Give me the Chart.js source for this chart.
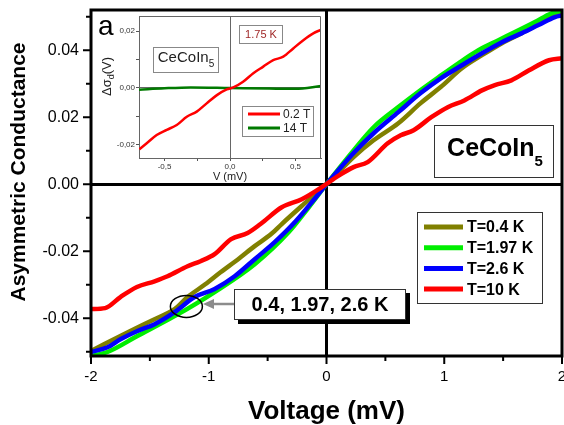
<!DOCTYPE html>
<html lang="en">
<head>
<meta charset="UTF-8">
<title>Asymmetric Conductance - CeCoIn5</title>
<script src="https://cdn.jsdelivr.net/npm/chart.js"></script>
<style>
  body { margin: 0; background: #fff; }
  #wrap { position: relative; width: 564px; height: 425px; }
  #mainChart { position: absolute; left: 0; top: 0; }
  #insetBox { position: absolute; left: 93px; top: 12px; width: 232px; height: 170px; background: #fff; }
</style>
</head>
<body>
<div id="wrap">
  <canvas id="mainChart" width="564" height="425"></canvas>
  <div id="insetBox"><canvas id="insetChart" width="232" height="170"></canvas></div>
</div>
<script>
// main panel: asymmetric conductance vs voltage (mV)
const seriesLabels = ['T=0.4 K', 'T=1.97 K', 'T=2.6 K', 'T=10 K'];

const t04V = [-2.0, -1.67, -1.46, -1.29, -1.18, -1.03, -0.90, -0.75, -0.61, -0.47, -0.38, -0.20, 0, 0.23, 0.40, 0.61, 0.80, 0.97, 1.15, 1.32, 1.49, 1.66, 1.83, 2.0];
const t04G = [-0.0498, -0.0439, -0.0403, -0.0373, -0.0337, -0.0299, -0.0263, -0.0224, -0.0185, -0.0149, -0.0119, -0.0062, 0, 0.0081, 0.0131, 0.0182, 0.0242, 0.0290, 0.0346, 0.0385, 0.0421, 0.0451, 0.0484, 0.0513];

const t197V = [-2.0, -1.86, -1.61, -1.29, -0.95, -0.61, -0.32, -0.15, 0, 0.23, 0.40, 0.61, 0.80, 0.95, 1.12, 1.29, 1.46, 1.60, 1.77, 1.91, 2.0];
const t197G = [-0.0513, -0.0501, -0.0454, -0.0394, -0.0322, -0.0239, -0.0143, -0.0069, 0, 0.0101, 0.0170, 0.0230, 0.0281, 0.0319, 0.0361, 0.0400, 0.0430, 0.0454, 0.0484, 0.0510, 0.0519];

const t26V = [-2.0, -1.86, -1.75, -1.61, -1.46, -1.29, -1.12, -0.95, -0.78, -0.61, -0.44, -0.26, -0.09, 0, 0.23, 0.40, 0.61, 0.80, 0.97, 1.15, 1.32, 1.49, 1.66, 1.80, 1.94, 2.0];
const t26G = [-0.0501, -0.0487, -0.0463, -0.0439, -0.0418, -0.0382, -0.0337, -0.0313, -0.0275, -0.0224, -0.0173, -0.0110, -0.0039, 0, 0.0093, 0.0152, 0.0215, 0.0272, 0.0316, 0.0355, 0.0391, 0.0424, 0.0451, 0.0475, 0.0499, 0.0504];

const t10V = [-2.0, -1.88, -1.75, -1.61, -1.46, -1.35, -1.18, -1.07, -0.95, -0.81, -0.67, -0.56, -0.38, -0.21, -0.04, 0.10, 0.23, 0.35, 0.52, 0.63, 0.74, 0.89, 1.03, 1.17, 1.32, 1.43, 1.57, 1.72, 1.89, 2.0];
const t10G = [-0.0373, -0.0370, -0.0337, -0.0307, -0.0290, -0.0275, -0.0245, -0.0230, -0.0209, -0.0164, -0.0146, -0.0119, -0.0069, -0.0045, -0.0009, 0.0025, 0.0051, 0.0066, 0.0122, 0.0146, 0.0161, 0.0200, 0.0230, 0.0250, 0.0280, 0.0296, 0.0310, 0.0340, 0.0370, 0.0376];

// inset: delta sigma_d at 1.75 K
const insetLabels = ['0.2 T', '14 T'];
const in02V = [-0.692, -0.636, -0.56, -0.483, -0.407, -0.33, -0.254, -0.178, -0.10, -0.025, 0.025, 0.10, 0.178, 0.254, 0.33, 0.407, 0.483, 0.56, 0.636, 0.692];
const in02G = [-0.0215, -0.0194, -0.0165, -0.0147, -0.0130, -0.0101, -0.0083, -0.0054, -0.0025, -0.0005, 0.0002, 0.0022, 0.0052, 0.0075, 0.0098, 0.0110, 0.0139, 0.0168, 0.0192, 0.0204];
const in14V = [-0.695, -0.5, -0.3, 0, 0.3, 0.5, 0.695];
const in14G = [-0.0006, -0.0001, 0.0002, 0, -0.0002, -0.0003, 0.0007];

const FONT = 'Arial, "Liberation Sans", sans-serif';
const pts = (xs, ys) => xs.map((x, i) => ({ x: x, y: ys[i] }));
const isZero = v => Math.abs(v) < 1e-9;
const near = (v, step) => Math.abs(v / step - Math.round(v / step)) < 1e-6;
const zeroGrid = col => c => (c.tick && isZero(c.tick.value)) ? col : 'rgba(0,0,0,0)';
// tick positions every `step` between lo and hi (axis marks only)
const tickRange = (lo, hi, step) => {
    const out = [];
    for (let k = Math.round(lo / step); k <= Math.round(hi / step); k++) out.push({ value: k * step });
    return out;
};

// text with a lowered (subscript) part; parts = [[text, font, dy], ...]
function richText(ctx, parts, cx, y) {
    let w = 0;
    parts.forEach(p => { ctx.font = p[1]; w += ctx.measureText(p[0]).width; });
    let x = cx - w / 2;
    ctx.textAlign = 'left';
    parts.forEach(p => {
        ctx.font = p[1];
        ctx.fillText(p[0], x, y + p[2]);
        x += ctx.measureText(p[0]).width;
    });
}

const mainDecor = {
    id: 'mainDecor',
    afterDatasetsDraw(chart) {
        const { ctx, chartArea: a, scales: { x, y } } = chart;
        ctx.save();
        ctx.strokeStyle = '#000';
        ctx.lineWidth = 2;
        ctx.beginPath();
        x.ticks.forEach(t => {
            const px = x.getPixelForValue(t.value);
            ctx.moveTo(px, a.bottom);
            ctx.lineTo(px, a.bottom + (near(t.value, 1) ? 8 : 5));
        });
        y.ticks.forEach(t => {
            const py = y.getPixelForValue(t.value);
            ctx.moveTo(a.left, py);
            ctx.lineTo(a.left - (near(t.value, 0.02) ? 8 : 5), py);
        });
        ctx.stroke();

        ctx.lineWidth = 3;
        ctx.strokeRect(a.left, a.top, a.right - a.left, a.bottom - a.top);

        // y title
        ctx.fillStyle = '#000';
        ctx.save();
        ctx.translate(25, 172);
        ctx.rotate(-Math.PI / 2);
        ctx.font = 'bold 21px ' + FONT;
        ctx.textAlign = 'center';
        ctx.textBaseline = 'alphabetic';
        ctx.fillText('Asymmetric Conductance', 0, 0);
        ctx.restore();

        // CeCoIn5 label box
        ctx.lineWidth = 1;
        ctx.strokeStyle = '#333';
        ctx.strokeRect(434.5, 125.5, 119, 52);
        ctx.textBaseline = 'alphabetic';
        richText(ctx, [['CeCoIn', 'bold 25px ' + FONT, 0], ['5', 'bold 15px ' + FONT, 10]], 495, 156);

        // legend
        ctx.strokeStyle = '#333';
        ctx.strokeRect(417.5, 212.5, 125, 91);
        chart.data.datasets.forEach((ds, i) => {
            const ry = 227 + i * 20.7;
            ctx.strokeStyle = ds.borderColor;
            ctx.lineWidth = 5;
            ctx.beginPath();
            ctx.moveTo(424, ry);
            ctx.lineTo(463, ry);
            ctx.stroke();
            ctx.fillStyle = '#000';
            ctx.font = 'bold 16px ' + FONT;
            ctx.textAlign = 'left';
            ctx.textBaseline = 'middle';
            ctx.fillText(ds.label, 467, ry + 1);
        });

        // annotation: ellipse around the low-T curves, arrow and label
        const ex = x.getPixelForValue(-1.19), ey = y.getPixelForValue(-0.0365);
        ctx.strokeStyle = '#000';
        ctx.lineWidth = 1.5;
        ctx.beginPath();
        ctx.ellipse(ex, ey, 16, 11, 0, 0, Math.PI * 2);
        ctx.stroke();

        ctx.strokeStyle = '#8c8c8c';
        ctx.fillStyle = '#8c8c8c';
        ctx.lineWidth = 2.5;
        ctx.beginPath();
        ctx.moveTo(234, 304);
        ctx.lineTo(212, 304);
        ctx.stroke();
        ctx.beginPath();
        ctx.moveTo(203, 304);
        ctx.lineTo(214, 299);
        ctx.lineTo(214, 309);
        ctx.closePath();
        ctx.fill();

        ctx.fillStyle = '#000';
        ctx.fillRect(238, 293, 172, 31);
        ctx.fillStyle = '#fff';
        ctx.fillRect(234, 289, 172, 31);
        ctx.strokeStyle = '#333';
        ctx.lineWidth = 1;
        ctx.strokeRect(234.5, 289.5, 171, 30);
        ctx.fillStyle = '#000';
        ctx.font = 'bold 20px ' + FONT;
        ctx.textAlign = 'center';
        ctx.textBaseline = 'middle';
        ctx.fillText('0.4, 1.97, 2.6 K', 320, 305.5);
        ctx.restore();
    }
};

new Chart(document.getElementById('mainChart'), {
    type: 'line',
    data: {
        datasets: [
            { label: seriesLabels[0], data: pts(t04V, t04G), borderColor: '#808000', order: 3 },
            { label: seriesLabels[1], data: pts(t197V, t197G), borderColor: '#00ee00', order: 2 },
            { label: seriesLabels[2], data: pts(t26V, t26G), borderColor: '#0000ff', order: 1 },
            { label: seriesLabels[3], data: pts(t10V, t10G), borderColor: '#ff0000', order: 0 }
        ]
    },
    options: {
        responsive: false,
        animation: false,
        layout: { padding: { top: 10, right: 2, left: 0, bottom: 0 } },
        elements: {
            point: { radius: 0 },
            line: { borderWidth: 4.5, cubicInterpolationMode: 'monotone', fill: false }
        },
        plugins: { legend: { display: false }, tooltip: { enabled: false } },
        scales: {
            x: {
                type: 'linear', min: -2, max: 2,
                afterBuildTicks: s => { s.ticks = tickRange(-2, 2, 0.5); },
                afterFit: s => { s.height = 69; s.paddingLeft = 0; s.paddingRight = 0; },
                ticks: {
                    padding: 12, color: '#000', autoSkip: false, maxRotation: 0,
                    font: { family: FONT, size: 15 },
                    callback: v => near(v, 1) ? String(Math.round(v)) : ''
                },
                grid: { drawTicks: false, lineWidth: 3, color: zeroGrid('#000') },
                border: { display: false },
                title: {
                    display: true, text: 'Voltage (mV)', color: '#000', padding: 0,
                    font: { family: FONT, size: 26, weight: 'bold', lineHeight: 1 }
                }
            },
            y: {
                min: -0.0513, max: 0.052,
                afterBuildTicks: s => { s.ticks = tickRange(-0.05, 0.05, 0.01); },
                afterFit: s => { s.width = 91; s.paddingTop = 0; s.paddingBottom = 0; },
                ticks: {
                    padding: 12, color: '#000', autoSkip: false,
                    font: { family: FONT, size: 16 },
                    callback: v => near(v, 0.02) ? (isZero(v) ? '0.00' : v.toFixed(2)) : ''
                },
                grid: { drawTicks: false, lineWidth: 3, color: zeroGrid('#000') },
                border: { display: false }
            }
        }
    },
    plugins: [mainDecor]
});

const insetDecor = {
    id: 'insetDecor',
    beforeDraw(chart) {
        const ctx = chart.ctx;
        ctx.save();
        ctx.fillStyle = '#fff';
        ctx.fillRect(0, 0, chart.width, chart.height);
        ctx.restore();
    },
    afterDraw(chart) {
        const { ctx, chartArea: a } = chart;
        ctx.save();
        ctx.strokeStyle = '#666';
        ctx.lineWidth = 1;
        ctx.beginPath();
        ctx.moveTo(a.left, a.top + 0.5);
        ctx.lineTo(a.right - 0.5, a.top + 0.5);
        ctx.lineTo(a.right - 0.5, a.bottom);
        ctx.stroke();

        ctx.fillStyle = '#000';
        ctx.font = '28px ' + FONT;
        ctx.textAlign = 'left';
        ctx.textBaseline = 'alphabetic';
        ctx.fillText('a', 5, 23);

        // y title with subscript
        ctx.fillStyle = '#222';
        ctx.save();
        ctx.translate(18, 64.5);
        ctx.rotate(-Math.PI / 2);
        richText(ctx, [['\u0394\u03c3', '13px ' + FONT, 0], ['d', '9px ' + FONT, 3], ['(V)', '13px ' + FONT, 0]], 0, 0);
        ctx.restore();

        // CeCoIn5 box
        ctx.strokeStyle = '#888';
        ctx.strokeRect(60.5, 35.5, 65, 25);
        richText(ctx, [['CeCoIn', '15px ' + FONT, 0], ['5', '10px ' + FONT, 5]], 93, 50);

        // temperature box
        ctx.strokeRect(146.5, 13.5, 43, 18);
        ctx.fillStyle = '#a02828';
        ctx.font = '11px ' + FONT;
        ctx.textAlign = 'center';
        ctx.textBaseline = 'middle';
        ctx.fillText('1.75 K', 168, 22.5);

        // inset legend
        ctx.strokeStyle = '#888';
        ctx.strokeRect(149.5, 94.5, 71, 30);
        chart.data.datasets.forEach((ds, i) => {
            const ry = 102 + i * 14;
            ctx.strokeStyle = ds.borderColor;
            ctx.lineWidth = 3;
            ctx.beginPath();
            ctx.moveTo(155, ry);
            ctx.lineTo(187, ry);
            ctx.stroke();
            ctx.fillStyle = '#222';
            ctx.font = '12px ' + FONT;
            ctx.textAlign = 'left';
            ctx.textBaseline = 'middle';
            ctx.fillText(ds.label, 190, ry + 0.5);
        });
        ctx.restore();
    }
};

new Chart(document.getElementById('insetChart'), {
    type: 'line',
    data: {
        datasets: [
            { label: insetLabels[0], data: pts(in02V, in02G), borderColor: '#ff0000', borderWidth: 2.5 },
            { label: insetLabels[1], data: pts(in14V, in14G), borderColor: '#007a00', borderWidth: 2.5 }
        ]
    },
    options: {
        responsive: false,
        animation: false,
        layout: { padding: { top: 4, right: 4, left: 0, bottom: 0 } },
        elements: {
            point: { radius: 0 },
            line: { cubicInterpolationMode: 'monotone', fill: false }
        },
        plugins: { legend: { display: false }, tooltip: { enabled: false } },
        scales: {
            x: {
                type: 'linear', min: -0.695, max: 0.695,
                afterBuildTicks: s => { s.ticks = tickRange(-0.5, 0.5, 0.25); },
                afterFit: s => { s.height = 24; s.paddingLeft = 0; s.paddingRight = 0; },
                ticks: {
                    padding: 1, color: '#333', autoSkip: false, maxRotation: 0,
                    font: { family: FONT, size: 8 },
                    callback: v => near(v, 0.5) ? (isZero(v) ? '0,0' : v.toFixed(1).replace('.', ',')) : ''
                },
                grid: { tickLength: 3, tickColor: '#555', lineWidth: 1, color: zeroGrid('#666') },
                border: { color: '#666', width: 1 },
                title: {
                    display: true, text: 'V (mV)', color: '#222', padding: 0,
                    font: { family: FONT, size: 11, lineHeight: 1 }
                }
            },
            y: {
                min: -0.0246, max: 0.0253,
                afterBuildTicks: s => { s.ticks = tickRange(-0.02, 0.02, 0.01); },
                afterFit: s => { s.width = 46; s.paddingTop = 0; s.paddingBottom = 0; },
                ticks: {
                    padding: 1, color: '#333', autoSkip: false,
                    font: { family: FONT, size: 8 },
                    callback: v => near(v, 0.02) ? (isZero(v) ? '0,00' : v.toFixed(2).replace('.', ',')) : ''
                },
                grid: { tickLength: 3, tickColor: '#555', lineWidth: 1, color: zeroGrid('#666') },
                border: { color: '#666', width: 1 }
            }
        }
    },
    plugins: [insetDecor]
});
</script>
</body>
</html>
